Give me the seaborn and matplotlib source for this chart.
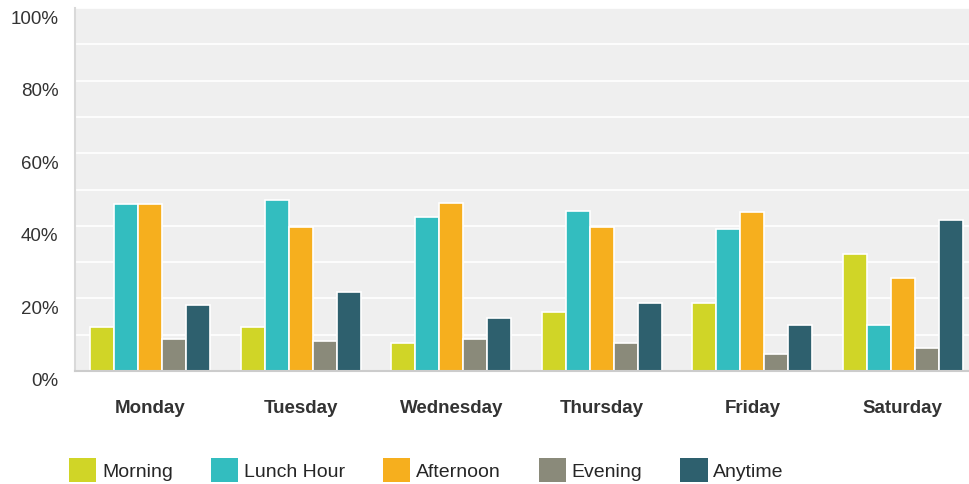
import numpy as np
import pandas as pd
import seaborn as sns
import matplotlib.pyplot as plt
import matplotlib.transforms as mtransforms
from matplotlib.ticker import MultipleLocator, FuncFormatter

# values (percent)
days = ["Monday", "Tuesday", "Wednesday", "Thursday", "Friday", "Saturday"]
slots = ["Morning", "Lunch Hour", "Afternoon", "Evening", "Anytime"]
morning = [12.1, 12.1, 7.7, 16.3, 18.8, 32.3]
lunch_hour = [45.9, 47.2, 42.3, 44.2, 39.2, 12.7]
afternoon = [45.9, 39.8, 46.4, 39.8, 43.9, 25.7]
evening = [8.8, 8.3, 8.8, 7.7, 4.7, 6.4]
anytime = [18.2, 21.8, 14.6, 18.8, 12.7, 41.7]
colors = ["#D0D527", "#33BDBF", "#F6AF1E", "#8A8A7A", "#2E606E"]

series = [morning, lunch_hour, afternoon, evening, anytime]
rows = []
for slot, vals in zip(slots, series):
    for day, v in zip(days, vals):
        rows.append({"day": day, "slot": slot, "value": v})
df = pd.DataFrame(rows)

sns.set_theme(style="white")
plt.rcParams["font.family"] = ["Liberation Sans", "DejaVu Sans"]

fig = plt.figure(figsize=(9.69, 4.85), dpi=100)
# plot area runs a little past the right edge of the figure, as in the original
ax = fig.add_axes([75 / 969, 1 - 372 / 485, 903 / 969, (372 - 9) / 485])
ax.set_facecolor("#EFEFEF")

sns.barplot(data=df, x="day", y="value", hue="slot", order=days, hue_order=slots,
            palette=colors, width=0.8, edgecolor="white", linewidth=1.2,
            saturation=1, ax=ax, legend=True)

ax.set_ylim(0, 100)
ax.set_xlim(-0.5, 5.5)
ax.yaxis.set_major_locator(MultipleLocator(20))
ax.yaxis.set_minor_locator(MultipleLocator(10))
ax.yaxis.set_major_formatter(FuncFormatter(lambda v, p: f"{v:.0f}%"))
ax.grid(axis="y", which="both", color="white", linewidth=1.2)
ax.set_axisbelow(True)
ax.tick_params(axis="y", which="both", length=0, pad=12, labelsize=13.5, labelcolor="#333333")
ax.tick_params(axis="x", length=0, pad=20)
for lab in ax.get_xticklabels():
    lab.set_fontweight("bold")
    lab.set_fontsize(13.5)
    lab.set_color("#333333")
offset = mtransforms.ScaledTranslation(0, -8 / 100, fig.dpi_scale_trans)
for lab in ax.get_yticklabels():
    lab.set_transform(lab.get_transform() + offset)

ax.set_xlabel("")
ax.set_ylabel("")
for side in ["top", "right"]:
    ax.spines[side].set_visible(False)
ax.spines["left"].set_color("#D9D9D9")
ax.spines["left"].set_linewidth(1.5)
ax.spines["bottom"].set_color("#CCCCCC")
ax.spines["bottom"].set_linewidth(1.5)

handles, labels = ax.get_legend_handles_labels()
ax.get_legend().remove()
for h in handles:
    h.set_edgecolor("none")
fig.legend(handles, labels, loc="center left", bbox_to_anchor=(69 / 969, 1 - 471 / 485),
           ncol=5, frameon=False, fontsize=14, handlelength=1.4, handleheight=1.5,
           handletextpad=0.3, columnspacing=1.95, borderpad=0, borderaxespad=0)

fig.savefig("out.png", dpi=100)
